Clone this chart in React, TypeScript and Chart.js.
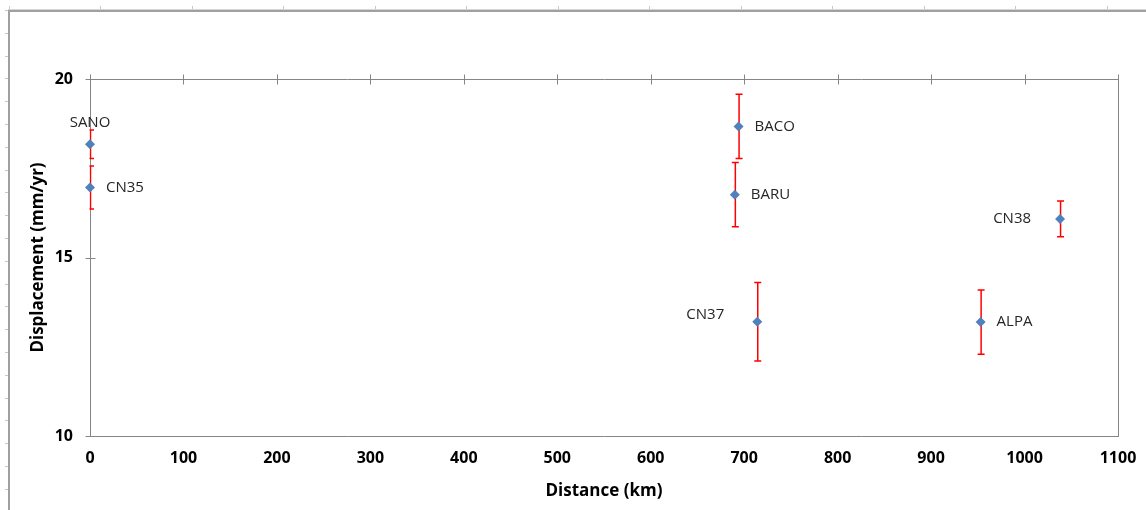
import React, { useEffect, useRef } from "react";
import { Chart, registerables } from "chart.js";

Chart.register(...registerables);

const stations = ["SANO", "CN35", "BACO", "BARU", "CN37", "ALPA", "CN38"];
const distanceKm = [0, 0, 694, 690, 714, 953, 1038];
const displacementMm = [18.17, 16.96, 18.67, 16.76, 13.2, 13.19, 16.08];
const errorMm = [0.4, 0.6, 0.9, 0.9, 1.1, 0.9, 0.5];
const labelSide = ["above", "right", "right", "right", "upperLeft", "right", "left"];
const xMin = 0;
const xMax = 1100;
const xStep = 100;
const yMin = 10;
const yMax = 20;
const yStep = 5;

const AXIS = "#868686";
const FONT = "'Open Sans', Lato, sans-serif";

const framePlugin = {
  id: "frame",
  beforeDraw(chart: any) {
    const ctx = chart.ctx;
    ctx.save();
    ctx.fillStyle = "#ffffff";
    ctx.fillRect(0, 0, chart.width, chart.height);
    ctx.fillStyle = "#c8c8c8";
    for (let x = 8.8; x < chart.width; x += 91.5) ctx.fillRect(Math.round(x), 6, 1, 4);
    for (let y = 10; y < chart.height; y += 22.8) ctx.fillRect(5, Math.round(y), 3, 1);
    ctx.fillStyle = "#d6d6d6";
    ctx.fillRect(8, 9, chart.width - 8, 1);
    ctx.fillStyle = "#a0a0a0";
    ctx.fillRect(8, 10, chart.width - 8, 2);
    ctx.fillRect(8, 10, 2, chart.height - 10);
    ctx.restore();
  },
};

const axesPlugin = {
  id: "axesExtra",
  beforeDatasetsDraw(chart: any) {
    const { ctx, chartArea } = chart;
    const xs = chart.scales.x;
    const ys = chart.scales.y;
    const top = Math.round(chartArea.top) + 0.5;
    const right = Math.round(chartArea.right) + 0.5;
    const left = Math.round(chartArea.left) + 0.5;
    ctx.save();
    ctx.strokeStyle = AXIS;
    ctx.lineWidth = 1;
    ctx.beginPath();
    ctx.moveTo(left, top);
    ctx.lineTo(right, top);
    ctx.moveTo(right, top - 4);
    ctx.lineTo(right, Math.round(chartArea.bottom) + 0.5);
    for (let v = xMin; v <= xMax; v += xStep) {
      const px = Math.round(xs.getPixelForValue(v)) + 0.5;
      ctx.moveTo(px, top - 5);
      ctx.lineTo(px, top + 5);
    }
    for (let v = yMin; v <= yMax; v += yStep) {
      const py = Math.round(ys.getPixelForValue(v)) + 0.5;
      ctx.moveTo(left - 5, py);
      ctx.lineTo(left + 5, py);
    }
    ctx.stroke();

    // error bars (clipped at the vertical axis like the original)
    ctx.beginPath();
    ctx.rect(chartArea.left - 0.5, chartArea.top - 20, chartArea.right - chartArea.left + 1, chartArea.bottom - chartArea.top + 40);
    ctx.clip();
    ctx.strokeStyle = "#ff0000";
    ctx.lineWidth = 1.5;
    ctx.beginPath();
    for (let i = 0; i < stations.length; i++) {
      const px = xs.getPixelForValue(distanceKm[i]) + 0.5;
      const y1 = ys.getPixelForValue(displacementMm[i] + errorMm[i]);
      const y2 = ys.getPixelForValue(displacementMm[i] - errorMm[i]);
      ctx.moveTo(px, y1);
      ctx.lineTo(px, y2);
      ctx.moveTo(px - 3.5, y1);
      ctx.lineTo(px + 3.5, y1);
      ctx.moveTo(px - 3.5, y2);
      ctx.lineTo(px + 3.5, y2);
    }
    ctx.stroke();
    ctx.restore();
  },
  afterDatasetsDraw(chart: any) {
    const { ctx } = chart;
    const xs = chart.scales.x;
    const ys = chart.scales.y;
    ctx.save();
    ctx.font = `15px ${FONT}`;
    ctx.fillStyle = "#262626";
    ctx.textBaseline = "middle";
    for (let i = 0; i < stations.length; i++) {
      const px = xs.getPixelForValue(distanceKm[i]);
      const py = ys.getPixelForValue(displacementMm[i]);
      const side = labelSide[i];
      if (side === "above") {
        ctx.textAlign = "center";
        ctx.fillText(stations[i], px, py - 22);
      } else if (side === "right") {
        ctx.textAlign = "left";
        ctx.fillText(stations[i], px + 16, py);
      } else if (side === "upperLeft") {
        ctx.textAlign = "right";
        ctx.fillText(stations[i], px - 33, py - 7);
      } else {
        ctx.textAlign = "right";
        ctx.fillText(stations[i], px - 29, py);
      }
    }
    ctx.restore();
  },
};

export default function App() {
  const ref = useRef<HTMLCanvasElement>(null);
  useEffect(() => {
    const chart = new Chart(ref.current as HTMLCanvasElement, {
      type: "scatter",
      data: {
        datasets: [
          {
            label: "Displacement",
            data: distanceKm.map((d, i) => ({ x: d, y: displacementMm[i] })),
            pointStyle: "rectRot",
            pointRadius: 5,
            pointHoverRadius: 5,
            backgroundColor: "#4f81bd",
            borderColor: "#4f81bd",
            borderWidth: 0,
            showLine: false,
            clip: false,
          },
        ],
      },
      options: {
        animation: false,
        responsive: false,
        devicePixelRatio: 1,
        layout: { padding: { left: 0, top: 79, right: 28, bottom: 0 } },
        plugins: { legend: { display: false }, tooltip: { enabled: false } },
        scales: {
          x: {
            type: "linear",
            min: xMin,
            max: xMax,
            ticks: {
              stepSize: xStep,
              color: "#000",
              padding: 13,
              maxRotation: 0,
              callback: (v: any) => String(v),
              font: { family: FONT, size: 16, weight: "bold" },
            },
            grid: { display: false, drawTicks: false },
            border: { display: true, color: AXIS, width: 1 },
            title: {
              display: true,
              text: "Distance (km)",
              color: "#000",
              font: { family: FONT, size: 17, weight: "bold" },
              padding: { top: 0, bottom: 9 },
            },
            afterFit: (s: any) => {
              s.height = 74;
              s.paddingLeft = 0;
              s.paddingRight = 0;
            },
          },
          y: {
            type: "linear",
            min: yMin,
            max: yMax,
            ticks: {
              stepSize: yStep,
              color: "#000",
              padding: 17,
              callback: (v: any) => String(v),
              font: { family: FONT, size: 16, weight: "bold" },
            },
            grid: { display: false, drawTicks: false },
            border: { display: true, color: AXIS, width: 1 },
            title: {
              display: true,
              text: "Displacement (mm/yr)",
              color: "#000",
              font: { family: FONT, size: 17, weight: "bold" },
              padding: { top: 28, bottom: 0 },
            },
            afterFit: (s: any) => {
              s.width = 90;
              s.paddingTop = 0;
              s.paddingBottom = 0;
            },
          },
        },
      },
      plugins: [framePlugin, axesPlugin],
    } as any);
    return () => chart.destroy();
  }, []);
  return (
    <div style={{ position: "absolute", left: 0, top: 0, width: 1146, height: 510, background: "#fff" }}>
      <canvas ref={ref} width={1146} height={510} style={{ display: "block" }} />
    </div>
  );
}
